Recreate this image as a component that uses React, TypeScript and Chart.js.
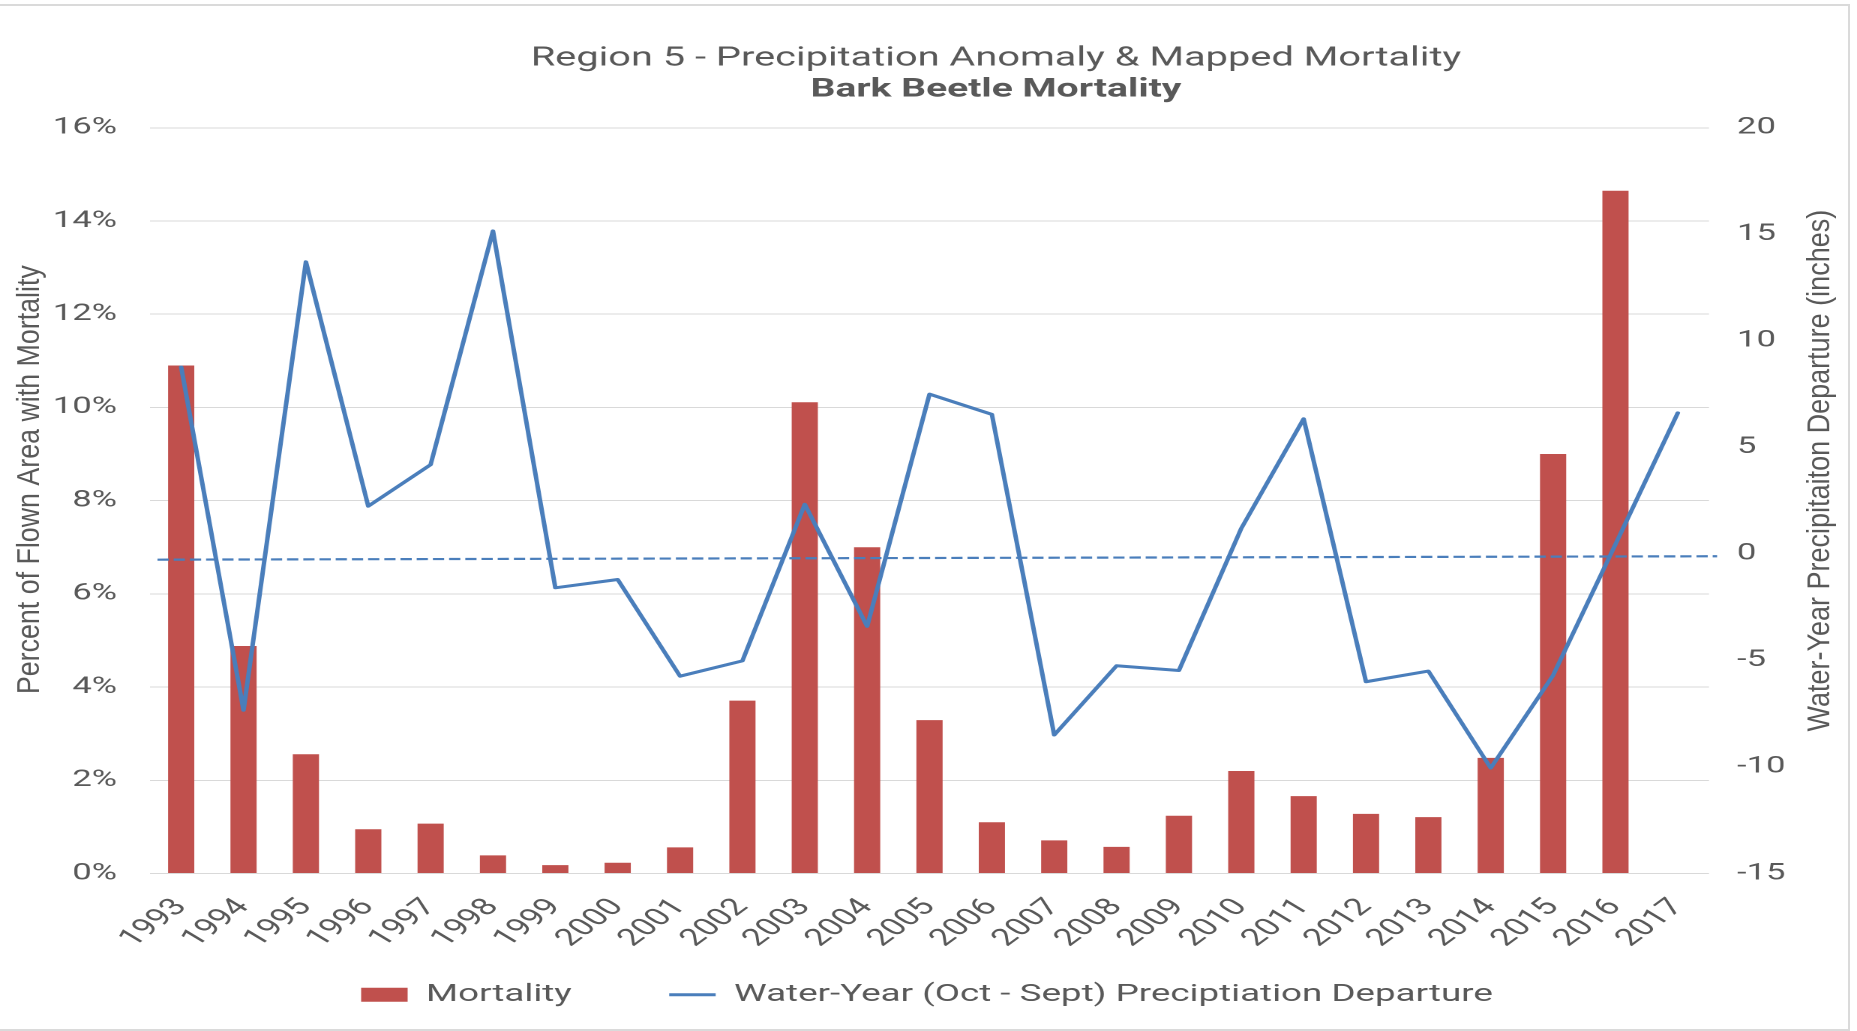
import React, { useEffect, useRef } from 'react';
import { Chart, registerables } from 'chart.js';

Chart.register(...registerables);

// ---- data ----
const years = [
  '1993', '1994', '1995', '1996', '1997', '1998', '1999', '2000', '2001', '2002',
  '2003', '2004', '2005', '2006', '2007', '2008', '2009', '2010', '2011', '2012',
  '2013', '2014', '2015', '2016', '2017',
];
const mortalityPct = [
  10.9, 4.88, 2.56, 0.95, 1.07, 0.39, 0.18, 0.23, 0.56, 3.71,
  10.11, 7.0, 3.29, 1.1, 0.71, 0.57, 1.24, 2.2, 1.66, 1.28,
  1.21, 2.48, 9.0, 14.65, null,
];
const precipDeparture = [
  8.77, -7.34, 13.71, 2.24, 4.19, 15.16, -1.59, -1.2, -5.74, -5.02,
  2.33, -3.4, 7.5, 6.55, -8.5, -5.25, -5.47, 1.2, 6.34, -6.0,
  -5.5, -10.05, -5.7, 0.45, 6.62,
];
// linear trend line of the departure (endpoints, in category-index units)
const trendIndex = [-0.38, 24.63];
const trendInches = [-0.27, -0.11];
const leftTickValues = [0, 2, 4, 6, 8, 10, 12, 14, 16];
const rightTickValues = [-15, -10, -5, 0, 5, 10, 15, 20];

const titleText = 'Region 5 - Precipitation Anomaly & Mapped Mortality';
const subtitleText = 'Bark Beetle Mortality';
const leftAxisTitle = 'Percent of Flown Area with Mortality';
const rightAxisTitle = 'Water-Year Precipitaiton Departure (inches)';
const barLabel = 'Mortality';
const lineLabel = 'Water-Year (Oct - Sept) Preciptiation Departure';

// ---- layout / style ----
const STRETCH = 1.5;
const PAGE_W = 1857;
const PAGE_H = 1031;
const CANVAS_W = PAGE_W / STRETCH;
const CANVAS_H = PAGE_H;
const PLOT_LEFT = 150 / STRETCH;
const PLOT_RIGHT = 1709 / STRETCH;
const PAD_RIGHT = 2;

const BAR_COLOR = '#C0504D';
const LINE_COLOR = '#4A7EBB';
const TEXT_COLOR = '#595959';
const GRID_COLOR = '#D9D9D9';
const SANS = 'Roboto, "Liberation Sans", Arial, sans-serif';
const AXIS_FONT = '"Liberation Sans", Arial, sans-serif';
const AXIS_TITLE_LH = 1.2;
const LEFT_TITLE_SIZE = 26.8;
const RIGHT_TITLE_SIZE = 27;
const AXIS_TITLE_XSCALE = 1.2 / STRETCH;
const TITLE_SHIFT_X = 46;
const YEAR_ROTATION = 48;

const stretchFix = {
  id: 'stretchFix',
  afterUpdate(chart: any) {
    const fixAxis = (id: string, size: number, dx: number, dy: number, flip: boolean) => {
      const s = chart.scales[id];
      if (!s || s.$fixed) return;
      const orig = s.drawTitle;
      s.drawTitle = function () {
        const lh = size * AXIS_TITLE_LH;
        const cx = id === 'y' ? this.left + lh / 2 : this.right - lh / 2;
        const cy = (this.top + this.bottom) / 2;
        const ctx = this.ctx;
        ctx.save();
        ctx.translate(cx + dx, cy + dy);
        ctx.scale(AXIS_TITLE_XSCALE, 1);
        if (flip) ctx.rotate(Math.PI);
        ctx.translate(-cx, -cy);
        orig.call(this);
        ctx.restore();
      };
      s.$fixed = true;
    };
    fixAxis('y', LEFT_TITLE_SIZE, 4, -21, false);
    fixAxis('y1', RIGHT_TITLE_SIZE, -6.3, -30, true);
    const xs = chart.scales.x;
    if (xs && !xs.$fixed) {
      // let the rotated year labels run past the axis box instead of being clipped
      xs._computeLabelArea = () => undefined;
      xs.$fixed = true;
    }
    chart.boxes.forEach((b: any) => {
      if (b && b.options && typeof b.options.text === 'string' && !b.$fixed) {
        const orig = b.draw;
        b.draw = function (...args: any[]) {
          const ctx = this.ctx;
          ctx.save();
          ctx.translate(TITLE_SHIFT_X, 0);
          orig.apply(this, args);
          ctx.restore();
        };
        b.$fixed = true;
      }
    });
  },
};

export default function App() {
  const ref = useRef<HTMLCanvasElement>(null);

  useEffect(() => {
    const prevMargin = document.body.style.margin;
    document.body.style.margin = '0';
    const canvas = ref.current!;
    const chart = new Chart(canvas, {
      type: 'bar',
      data: {
        labels: years,
        datasets: [
          {
            type: 'bar',
            label: barLabel,
            data: mortalityPct,
            backgroundColor: BAR_COLOR,
            borderWidth: 0,
            xAxisID: 'x',
            yAxisID: 'y',
            categoryPercentage: 1,
            barPercentage: 0.42,
            order: 2,
            pointStyle: 'rect',
          } as any,
          {
            type: 'line',
            label: lineLabel,
            data: precipDeparture,
            borderColor: LINE_COLOR,
            backgroundColor: LINE_COLOR,
            borderWidth: 3,
            tension: 0,
            pointRadius: 0,
            borderJoinStyle: 'round',
            borderCapStyle: 'round',
            xAxisID: 'x',
            yAxisID: 'y1',
            order: 0,
            pointStyle: 'line',
          } as any,
          {
            type: 'line',
            label: 'trend',
            parsing: false,
            data: trendIndex.map((x, i) => ({ x, y: trendInches[i] })),
            borderColor: LINE_COLOR,
            borderWidth: 2.2,
            borderDash: [7.5, 3.3],
            pointRadius: 0,
            xAxisID: 'x',
            yAxisID: 'y1',
            order: 1,
            clip: false,
          } as any,
        ],
      },
      options: {
        responsive: false,
        animation: false,
        devicePixelRatio: 2,
        events: [],
        layout: { padding: { left: 0, right: PAD_RIGHT, top: 0, bottom: 14 } },
        plugins: {
          tooltip: { enabled: false },
          title: {
            display: true,
            text: titleText,
            color: TEXT_COLOR,
            font: { family: SANS, size: 26.5, weight: 'normal', lineHeight: 1.2 },
            padding: { top: 42.8, bottom: 0 },
          },
          subtitle: {
            display: true,
            text: subtitleText,
            color: TEXT_COLOR,
            font: { family: SANS, size: 26, weight: 'bold', lineHeight: 1.2 },
            padding: { top: 0, bottom: 22 },
          },
          legend: {
            display: true,
            position: 'bottom',
            labels: {
              color: TEXT_COLOR,
              font: { family: SANS, size: 24.5 },
              usePointStyle: true,
              pointStyleWidth: 31,
              boxHeight: 14,
              padding: 65,
              filter: (item: any) => item.datasetIndex !== 2,
              sort: (a: any, b: any) => a.datasetIndex - b.datasetIndex,
            },
          },
        },
        scales: {
          x: {
            type: 'category',
            offset: true,
            min: 0,
            max: years.length - 1,
            grid: { display: false },
            border: { display: false },
            ticks: {
              autoSkip: false,
              minRotation: YEAR_ROTATION,
              maxRotation: YEAR_ROTATION,
              padding: 12,
              color: TEXT_COLOR,
              font: { family: SANS, size: 24 },
            },
            afterFit: (s: any) => {
              s.height = 44;
            },
          },
          y: {
            type: 'linear',
            position: 'left',
            min: leftTickValues[0],
            max: leftTickValues[leftTickValues.length - 1],
            afterBuildTicks: (s: any) => {
              s.ticks = leftTickValues.map((v) => ({ value: v }));
            },
            grid: { color: GRID_COLOR, lineWidth: 1, drawTicks: false },
            border: { display: false },
            ticks: {
              padding: 22,
              color: TEXT_COLOR,
              font: { family: SANS, size: 23 },
              callback: (v: any) => `${v}%`,
            },
            title: {
              display: true,
              text: leftAxisTitle,
              color: TEXT_COLOR,
              font: { family: AXIS_FONT, size: LEFT_TITLE_SIZE, lineHeight: AXIS_TITLE_LH },
              padding: 0,
            },
            afterFit: (s: any) => {
              s.width = PLOT_LEFT;
            },
          },
          y1: {
            type: 'linear',
            position: 'right',
            min: rightTickValues[0],
            max: rightTickValues[rightTickValues.length - 1],
            afterBuildTicks: (s: any) => {
              s.ticks = rightTickValues.map((v) => ({ value: v }));
            },
            grid: { display: false, drawTicks: false },
            border: { display: false },
            ticks: {
              padding: 18.7,
              color: TEXT_COLOR,
              font: { family: SANS, size: 23 },
            },
            title: {
              display: true,
              text: rightAxisTitle,
              color: TEXT_COLOR,
              font: { family: AXIS_FONT, size: RIGHT_TITLE_SIZE, lineHeight: AXIS_TITLE_LH },
              padding: 0,
            },
            afterFit: (s: any) => {
              s.width = CANVAS_W - PAD_RIGHT - PLOT_RIGHT;
            },
          },
        },
      } as any,
      plugins: [stretchFix],
    });
    return () => {
      chart.destroy();
      document.body.style.margin = prevMargin;
    };
  }, []);

  return (
    <div style={{ position: 'relative', width: PAGE_W, height: PAGE_H, overflow: 'hidden', background: '#fff' }}>
      <div
        style={{
          position: 'absolute',
          left: 0,
          top: 0,
          width: CANVAS_W,
          height: CANVAS_H,
          transform: `scaleX(${STRETCH})`,
          transformOrigin: '0 0',
        }}
      >
        <canvas ref={ref} width={CANVAS_W} height={CANVAS_H} style={{ width: CANVAS_W, height: CANVAS_H, display: 'block' }} />
      </div>
      <div
        style={{
          position: 'absolute',
          left: -3,
          top: 4,
          width: 1853,
          height: 1027,
          border: '2px solid #DADADA',
          boxSizing: 'border-box',
          pointerEvents: 'none',
        }}
      />
    </div>
  );
}
